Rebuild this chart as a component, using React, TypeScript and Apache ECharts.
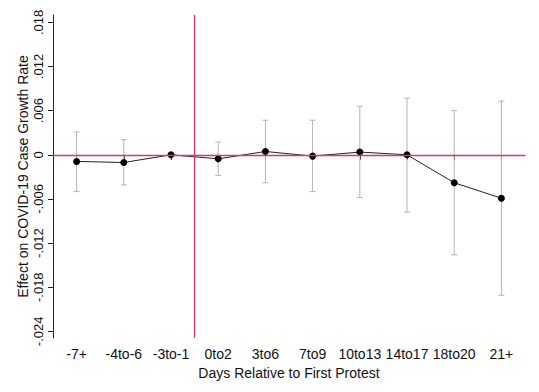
import React, { useEffect, useRef } from "react";
import * as echarts from "echarts";

const categories = ["-7+", "-4to-6", "-3to-1", "0to2", "3to6", "7to9", "10to13", "14to17", "18to20", "21+"];
const estimates = [-0.0009, -0.00105, 0, -0.00055, 0.00045, -0.00018, 0.00037, 0, -0.0038, -0.0059];
const upper = [0.0031, 0.00205, null, 0.00173, 0.0047, 0.0047, 0.0066, 0.0077, 0.006, 0.0073];
const lower = [-0.005, -0.0041, null, -0.0028, -0.0038, -0.005, -0.0058, -0.0078, -0.0136, -0.0191];
const yTicks = [-0.024, -0.018, -0.012, -0.006, 0, 0.006, 0.012, 0.018];
const protestLine = 3.5;

const fmtY = (v: number) => {
  if (Math.abs(v) < 1e-9) return "0";
  const s = Math.abs(v).toFixed(3).replace(/^0/, "");
  return (v < 0 ? "-" : "") + s;
};

export default function App() {
  const ref = useRef<HTMLDivElement>(null);
  useEffect(() => {
    if (!ref.current) return;
    const chart = echarts.init(ref.current, null, { renderer: "svg" });
    const xs = categories.map((_, i) => i + 1);
    const ciData = xs
      .map((x, i) => (upper[i] == null ? null : [x, lower[i], upper[i]]))
      .filter((d) => d !== null);
    const font = "Liberation Sans, Arial, sans-serif";
    chart.setOption({
      animation: false,
      backgroundColor: "#fff",
      grid: { left: 53, right: 14, top: 15, bottom: 54 },
      xAxis: {
        type: "value",
        min: 0.5,
        max: 10.5,
        name: "Days Relative to First Protest",
        nameLocation: "middle",
        nameGap: 21,
        nameTextStyle: { fontFamily: font, fontSize: 14, color: "#111" },
        splitLine: { show: false },
        axisLine: { show: true, lineStyle: { color: "#222", width: 1 } },
        axisTick: { show: true, customValues: xs, length: 5, lineStyle: { color: "#222" } },
        axisLabel: {
          customValues: xs,
          formatter: (v: number) => categories[Math.round(v) - 1] ?? "",
          fontFamily: font,
          fontSize: 14,
          color: "#111",
          margin: 9,
        },
      },
      yAxis: {
        type: "value",
        min: -0.0249,
        max: 0.019,
        name: "Effect on COVID-19 Case Growth Rate",
        nameLocation: "middle",
        nameGap: 23,
        nameMoveOverlap: false,
        nameRotate: 90,
        nameTextStyle: { fontFamily: font, fontSize: 14, color: "#111" },
        splitLine: { show: false },
        axisLine: { show: true, lineStyle: { color: "#222", width: 1 } },
        axisTick: { show: true, customValues: yTicks, length: 5, lineStyle: { color: "#222" } },
        axisLabel: {
          customValues: yTicks,
          rotate: 90,
          formatter: fmtY,
          fontFamily: font,
          fontSize: 13,
          color: "#111",
          margin: 8,
        },
      },
      series: [
        {
          type: "custom",
          z: 1,
          renderItem: (params: any, api: any) => {
            const x = api.value(0);
            const lo = api.coord([x, api.value(1)]);
            const hi = api.coord([x, api.value(2)]);
            const cap = 3;
            const style = { stroke: "#b5b5b5", lineWidth: 1 };
            return {
              type: "group",
              children: [
                { type: "line", shape: { x1: lo[0], y1: lo[1], x2: hi[0], y2: hi[1] }, style },
                { type: "line", shape: { x1: lo[0] - cap, y1: lo[1], x2: lo[0] + cap, y2: lo[1] }, style },
                { type: "line", shape: { x1: hi[0] - cap, y1: hi[1], x2: hi[0] + cap, y2: hi[1] }, style },
              ],
            };
          },
          data: ciData,
        },
        {
          type: "line",
          z: 3,
          data: xs.map((x, i) => [x, estimates[i]]),
          symbol: "circle",
          symbolSize: 7,
          itemStyle: { color: "#000" },
          lineStyle: { color: "#222", width: 1 },
          markLine: {
            silent: true,
            symbol: "none",
            label: { show: false },
            lineStyle: { color: "#d03c6c", width: 1.3, type: "solid" },
            data: [{ yAxis: 0 }, { xAxis: protestLine }],
          },
        },
      ],
    });
    return () => chart.dispose();
  }, []);
  return <div ref={ref} style={{ width: 539, height: 392, position: "absolute", left: 0, top: 0 }} />;
}
